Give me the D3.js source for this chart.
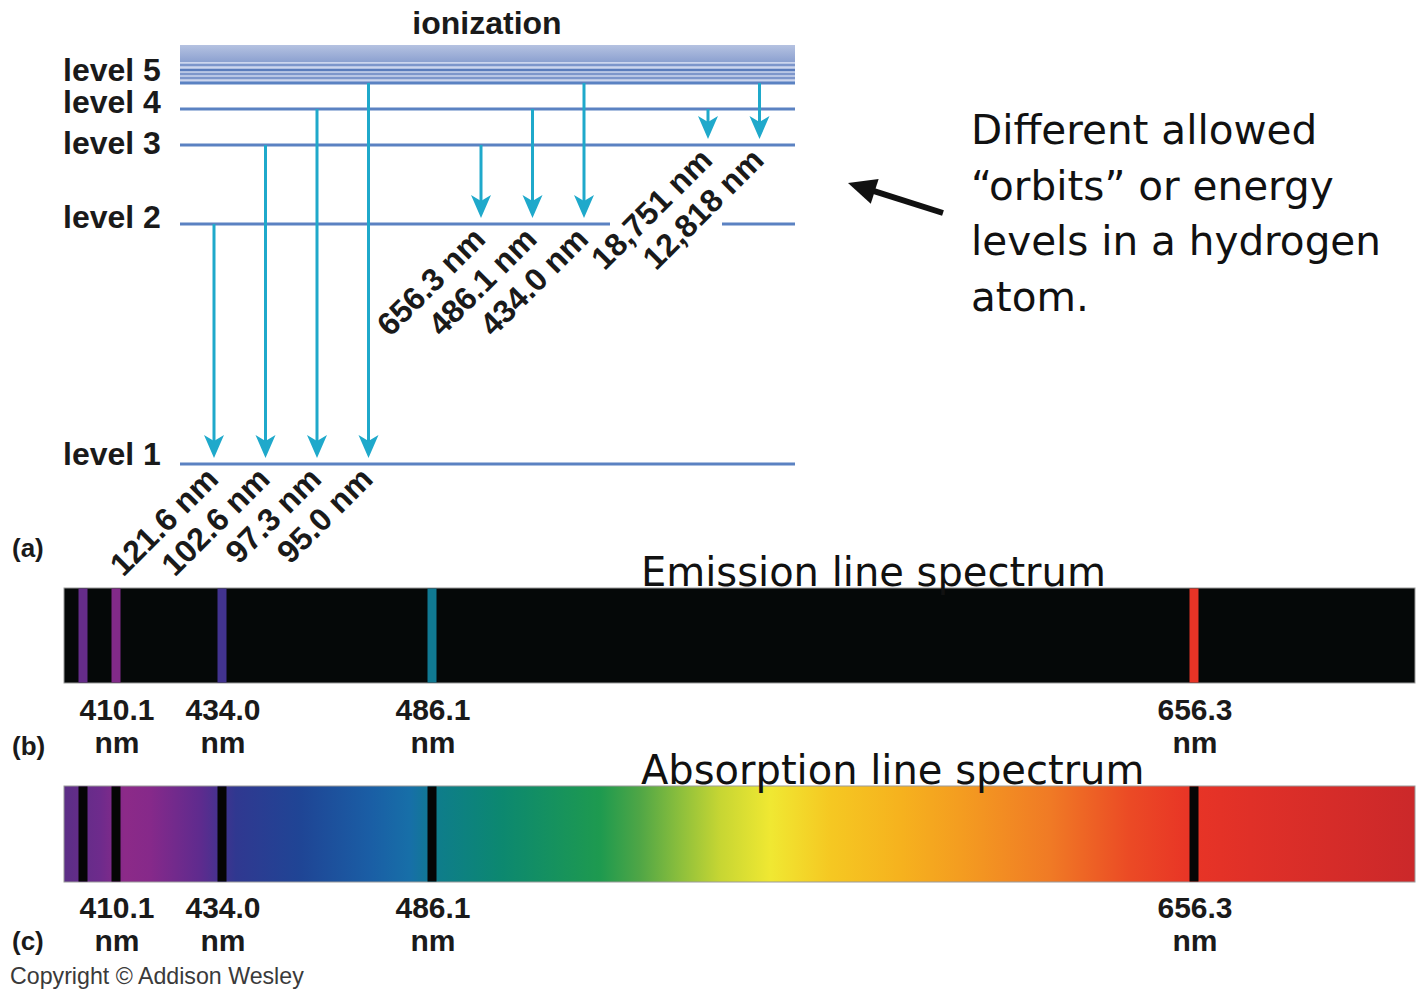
<!DOCTYPE html>
<html>
<head>
<meta charset="utf-8">
<script src="https://cdn.jsdelivr.net/npm/d3@7"></script>
<style>
  body { margin: 0; background: #fff; }
  svg { display: block; }
</style>
</head>
<body>
<svg id="chart" width="1418" height="990"></svg>
<script>
// ---- Data -------------------------------------------------------------
// Hydrogen energy levels (eV) by principal quantum number n
const levelN = [1, 2, 3, 4, 5];
const levelEnergy = [-13.6, -3.4, -1.51, -0.85, -0.544];
const levelLabels = ["level 1", "level 2", "level 3", "level 4", "level 5"];
// higher levels crowding toward the ionization limit (0 eV)
const continuumEnergy = [-0.378, -0.278, -0.213, -0.168];
const ionizationEnergy = 0;

// Electron transitions: series, upper level, lower level, wavelength label
const transSeries = ["Lyman", "Lyman", "Lyman", "Lyman", "Balmer", "Balmer", "Balmer", "Paschen", "Paschen"];
const transUpper  = [2, 3, 4, 5, 3, 4, 5, 4, 5];
const transLower  = [1, 1, 1, 1, 2, 2, 2, 3, 3];
const transLabels = ["121.6 nm", "102.6 nm", "97.3 nm", "95.0 nm",
                     "656.3 nm", "486.1 nm", "434.0 nm", "18,751 nm", "12,818 nm"];

// Visible Balmer lines (nm) shown in the spectra
const balmerWavelengths = [397.0, 410.1, 434.0, 486.1, 656.3];
const balmerLabels = ["", "410.1", "434.0", "486.1", "656.3"];

// ---- Styles -----------------------------------------------------------
const LEVEL_COLOR = "#5b82c2";
const ARROW_COLOR = "#1fa9cb";
const BOLD_FONT = "'Liberation Sans', Arial, Helvetica, sans-serif";
const TEXT_FONT = "'DejaVu Sans', Verdana, Tahoma, sans-serif";
// baseline nudges for the level names (level 1 .. level 5)
const levelLabelDy = [1, 4, 9, 4, -2];
// visible spectrum colour ramp (offset along the bar, colour)
const spectrumStops = [
  [0.000, "#5b2e86"], [0.027, "#6e2b8c"], [0.045, "#8c2a88"], [0.064, "#86298a"],
  [0.101, "#5e2b8e"], [0.127, "#303890"], [0.175, "#1f4595"], [0.227, "#1a5ea5"],
  [0.256, "#176fa8"], [0.278, "#0e7d8a"], [0.323, "#0c8870"], [0.397, "#1e9a4f"],
  [0.426, "#4fa646"], [0.456, "#8cbf3c"], [0.486, "#c7d633"], [0.523, "#f0e832"],
  [0.567, "#f5c822"], [0.619, "#f6b21e"], [0.663, "#f49d20"], [0.730, "#f07a25"],
  [0.789, "#eb4a25"], [0.834, "#e83426"], [0.878, "#e03028"], [1.000, "#cb282a"]
];

const svg = d3.select("#chart");
const defs = svg.append("defs");

// ---- Scales -----------------------------------------------------------
// Schematic (non-linear) energy axis
const yEnergy = d3.scaleLinear()
  .domain([-13.6, -3.4, -1.51, -0.85, -0.544, -0.378, -0.278, -0.213, -0.168, 0])
  .range([464, 224, 145, 109, 83, 78, 74, 70, 65, 45]);

const diagramX = [180, 795];
const seriesX = d3.scaleOrdinal().domain(["Lyman", "Balmer", "Paschen"]).range([214, 481, 708]);
const seriesStep = 51.5;

// Wavelength axis of the spectrum strips
const xWave = d3.scaleLinear()
  .domain(balmerWavelengths)
  .range([83, 116, 222, 432, 1194]);
const stripX = [64, 1415];

// ---- Ionization band ----------------------------------------------------
const bandGrad = defs.append("linearGradient").attr("id", "band")
  .attr("x1", 0).attr("y1", 0).attr("x2", 0).attr("y2", 1);
bandGrad.append("stop").attr("offset", 0).attr("stop-color", "#b5c2e1");
bandGrad.append("stop").attr("offset", 1).attr("stop-color", "#8ca1d0");

const yTop = yEnergy(ionizationEnergy);
svg.append("rect")
  .attr("x", diagramX[0]).attr("width", diagramX[1] - diagramX[0])
  .attr("y", yTop).attr("height", yEnergy(levelEnergy[4]) - yTop)
  .attr("fill", "#cdd6ee");
svg.append("rect")
  .attr("x", diagramX[0]).attr("width", diagramX[1] - diagramX[0])
  .attr("y", yTop).attr("height", yEnergy(continuumEnergy[3]) - yTop - 3)
  .attr("fill", "url(#band)");
svg.selectAll("line.cont").data(continuumEnergy).join("line")
  .attr("class", "cont")
  .attr("x1", diagramX[0]).attr("x2", diagramX[1])
  .attr("y1", d => yEnergy(d)).attr("y2", d => yEnergy(d))
  .attr("stroke", (d, i) => i === 2 ? "#5a7cbc" : "#7d96cb")
  .attr("stroke-width", 2.5);

svg.append("text")
  .attr("x", 487).attr("y", 34)
  .attr("text-anchor", "middle")
  .attr("font-family", BOLD_FONT).attr("font-weight", "bold").attr("font-size", 32)
  .attr("fill", "#1a1a1a")
  .text("ionization");

// ---- Energy levels ---------------------------------------------------------
const levelGap = [610, 722]; // opening in level 2 for the infrared labels
levelEnergy.forEach((e, i) => {
  const y = yEnergy(e);
  const segs = levelN[i] === 2
    ? [[diagramX[0], levelGap[0]], [levelGap[1], diagramX[1]]]
    : [diagramX];
  segs.forEach(s => {
    svg.append("line")
      .attr("x1", s[0]).attr("x2", s[1]).attr("y1", y).attr("y2", y)
      .attr("stroke", LEVEL_COLOR).attr("stroke-width", 3);
  });
});

svg.selectAll("text.level").data(levelLabels).join("text")
  .attr("class", "level")
  .attr("x", 63)
  .attr("y", (d, i) => yEnergy(levelEnergy[i]) + levelLabelDy[i])
  .attr("font-family", BOLD_FONT).attr("font-weight", "bold").attr("font-size", 32)
  .attr("fill", "#1a1a1a")
  .text(d => d);

// ---- Transition arrows ------------------------------------------------------
const seriesCount = {};
const transitions = transSeries.map((s, i) => {
  const k = seriesCount[s] || 0;
  seriesCount[s] = k + 1;
  return {
    x: seriesX(s) + k * seriesStep,
    yUp: yEnergy(levelEnergy[transUpper[i] - 1]),
    yLow: yEnergy(levelEnergy[transLower[i] - 1]),
    label: transLabels[i]
  };
});

const arrows = svg.append("g");
transitions.forEach(t => {
  const tip = t.yLow - 6;
  arrows.append("line")
    .attr("x1", t.x).attr("x2", t.x)
    .attr("y1", t.yUp).attr("y2", tip - 14)
    .attr("stroke", ARROW_COLOR).attr("stroke-width", 3);
  arrows.append("path")
    .attr("d", `M${t.x},${tip} L${t.x - 10},${tip - 23} L${t.x},${tip - 17} L${t.x + 10},${tip - 23} Z`)
    .attr("fill", ARROW_COLOR);
  svg.append("text")
    .attr("transform", `translate(${t.x + 6},${t.yLow + 17}) rotate(-45)`)
    .attr("text-anchor", "end")
    .attr("font-family", BOLD_FONT).attr("font-weight", "bold").attr("font-size", 32)
    .attr("fill", "#1a1a1a")
    .text(t.label);
});

// ---- Panel letters ---------------------------------------------------------
const panelLetters = [["(a)", 557], ["(b)", 755], ["(c)", 950]];
svg.selectAll("text.panel").data(panelLetters).join("text")
  .attr("class", "panel")
  .attr("x", 12).attr("y", d => d[1])
  .attr("font-family", BOLD_FONT).attr("font-weight", "bold").attr("font-size", 26)
  .attr("fill", "#1a1a1a")
  .text(d => d[0]);

// ---- Annotation -------------------------------------------------------------
const noteLines = ["Different allowed", "\u201corbits\u201d or energy", "levels in a hydrogen", "atom."];
svg.selectAll("text.note").data(noteLines).join("text")
  .attr("class", "note")
  .attr("x", 971).attr("y", (d, i) => 144 + i * 55.7)
  .attr("font-family", TEXT_FONT).attr("font-size", 40.5)
  .attr("fill", "#111")
  .text(d => d);

// pointer arrow toward the level diagram
{
  const from = [943, 213], to = [848, 183];
  const dx = to[0] - from[0], dy = to[1] - from[1];
  const len = Math.hypot(dx, dy), ux = dx / len, uy = dy / len;
  const headLen = 28, headW = 13;
  const bx = to[0] - ux * headLen, by = to[1] - uy * headLen;
  svg.append("line")
    .attr("x1", from[0]).attr("y1", from[1]).attr("x2", bx + ux * 4).attr("y2", by + uy * 4)
    .attr("stroke", "#111").attr("stroke-width", 6);
  svg.append("path")
    .attr("d", `M${to[0]},${to[1]} L${bx - uy * headW},${by + ux * headW} L${bx + uy * headW},${by - ux * headW} Z`)
    .attr("fill", "#111");
}

// ---- Spectra ---------------------------------------------------------------
const specGrad = defs.append("linearGradient").attr("id", "spectrum")
  .attr("x1", 0).attr("y1", 0).attr("x2", 1).attr("y2", 0);
spectrumStops.forEach(s => specGrad.append("stop").attr("offset", s[0]).attr("stop-color", s[1]));
const spectrumColor = d3.scaleLinear()
  .domain(spectrumStops.map(s => stripX[0] + s[0] * (stripX[1] - stripX[0])))
  .range(spectrumStops.map(s => s[1]))
  .interpolate(d3.interpolateRgb);

function drawStrip(top, height, fill, lineColor, title, titleY, labelY) {
  svg.append("rect")
    .attr("x", stripX[0]).attr("y", top)
    .attr("width", stripX[1] - stripX[0]).attr("height", height)
    .attr("fill", fill).attr("stroke", "#9a9a9a").attr("stroke-width", 1);
  svg.selectAll(null).data(balmerWavelengths).join("rect")
    .attr("x", d => xWave(d) - 4.5).attr("width", 9)
    .attr("y", top + 0.5).attr("height", height - 1)
    .attr("fill", d => lineColor(d));
  svg.append("text")
    .attr("x", 641).attr("y", titleY)
    .attr("font-family", TEXT_FONT).attr("font-size", 40)
    .attr("fill", "#111")
    .text(title);
  const lab = svg.selectAll(null).data(balmerWavelengths.filter((d, i) => balmerLabels[i])).join("g")
    .attr("font-family", BOLD_FONT).attr("font-weight", "bold").attr("font-size", 30)
    .attr("fill", "#1a1a1a").attr("text-anchor", "middle");
  lab.append("text").attr("x", d => xWave(d) + 1).attr("y", labelY)
    .text(d => balmerLabels[balmerWavelengths.indexOf(d)]);
  lab.append("text").attr("x", d => xWave(d) + 1).attr("y", labelY + 33)
    .text("nm");
}

drawStrip(588, 95, "#050808", d => spectrumColor(xWave(d)), "Emission line spectrum", 586, 720);
drawStrip(786, 96, "url(#spectrum)", () => "#050505", "Absorption line spectrum", 784, 918);

svg.append("text")
  .attr("x", 10).attr("y", 984)
  .attr("font-family", "'Liberation Sans', Arial, sans-serif").attr("font-size", 23.2)
  .attr("fill", "#3a3a3a")
  .text("Copyright \u00a9 Addison Wesley");
</script>
</body>
</html>
